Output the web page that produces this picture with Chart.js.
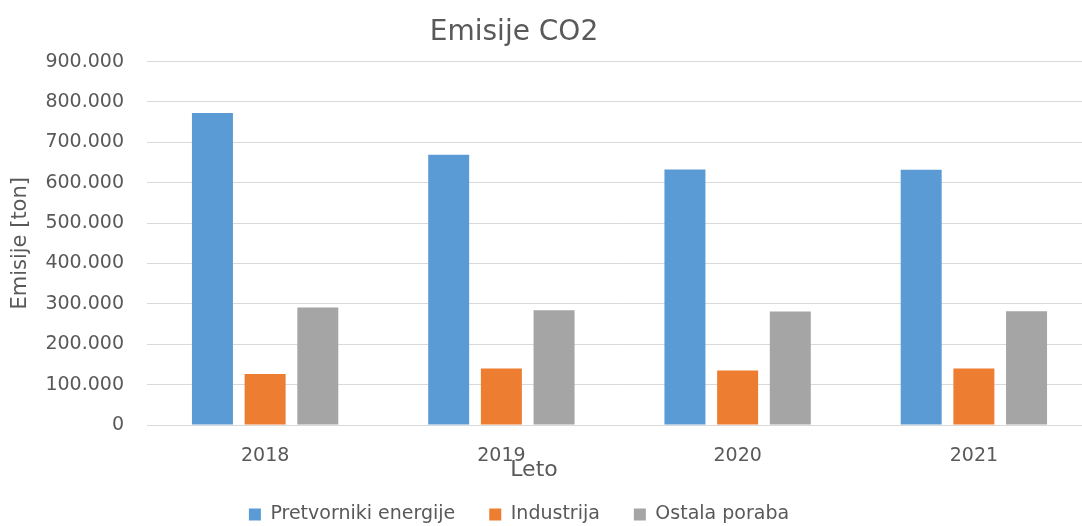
<!DOCTYPE html>
<html>
<head>
<meta charset="utf-8">
<title>Emisije CO2</title>
<script src="https://cdn.jsdelivr.net/npm/chart.js@4.4.1/dist/chart.umd.min.js"></script>
<style>
    body { margin: 0; background: #ffffff; overflow: hidden; }
    /* plot area runs a little past the right edge, as in the reference */
    #chartBox { width: 1082px; height: 526px; overflow: hidden; }
</style>
</head>
<body>
<div id="chartBox">
    <canvas id="co2Chart" width="1092" height="526"></canvas>
</div>
<script>
// Chart data
const years = ['2018', '2019', '2020', '2021'];
const pretvorniki = [773000, 669000, 633000, 632000];
const industrija = [126000, 140000, 135000, 140000];
const ostalaPoraba = [291000, 284000, 281000, 282000];
const yTicks = [0, 100000, 200000, 300000, 400000, 500000, 600000, 700000, 800000, 900000];

const textColor = '#595959';
const gridColor = '#d9d9d9';
const fontName = "'DejaVu Sans', sans-serif";

function formatThousands(value) {
    return String(value).replace(/\B(?=(\d{3})+(?!\d))/g, '.');
}

// Excel puts title, legend and the x axis title slightly left of centre
const placeTextPlugin = {
    id: 'placeText',
    afterLayout(chart) {
        const title = chart.titleBlock;
        if (title) {
            const w = title.right - title.left;
            title.left = 514 - w / 2;
            title.right = title.left + w;
        }
        const legend = chart.legend;
        if (legend) {
            const w = legend.right - legend.left;
            legend.left = 519 - w / 2;
            legend.right = legend.left + w;
        }
    },
    afterDraw(chart) {
        const ctx = chart.ctx;
        ctx.save();
        ctx.font = '22px ' + fontName;
        ctx.fillStyle = textColor;
        ctx.textAlign = 'center';
        ctx.textBaseline = 'middle';
        ctx.fillText('Leto', 534, 470);
        ctx.restore();
    }
};

const ctx = document.getElementById('co2Chart');

new Chart(ctx, {
    type: 'bar',
    data: {
        labels: years,
        datasets: [
            { label: 'Pretvorniki energije', data: pretvorniki, backgroundColor: '#5B9BD5' },
            { label: 'Industrija', data: industrija, backgroundColor: '#ED7D31' },
            { label: 'Ostala poraba', data: ostalaPoraba, backgroundColor: '#A5A5A5' }
        ]
    },
    options: {
        responsive: false,
        animation: false,
        devicePixelRatio: 1,
        layout: {
            padding: { left: 0, right: 0, top: 0, bottom: -8 }
        },
        datasets: {
            bar: {
                categoryPercentage: 0.669,
                barPercentage: 0.778,
                borderWidth: 0
            }
        },
        plugins: {
            title: {
                display: true,
                text: 'Emisije CO2',
                color: textColor,
                font: { family: fontName, size: 28, weight: 'normal' },
                padding: { top: 16, bottom: 12 }
            },
            legend: {
                position: 'bottom',
                labels: {
                    color: textColor,
                    boxWidth: 12,
                    boxHeight: 12,
                    padding: 34,
                    font: { family: fontName, size: 19 }
                }
            },
            tooltip: { enabled: false }
        },
        scales: {
            x: {
                grid: { display: false, drawTicks: false },
                border: { display: true, color: gridColor, width: 1 },
                ticks: {
                    color: textColor,
                    padding: 20,
                    font: { family: fontName, size: 19 }
                },
                afterFit: function(scale) {
                    scale.height = 46;
                }
            },
            y: {
                min: 0,
                max: 900000,
                afterBuildTicks: function(scale) {
                    scale.ticks = yTicks.map(v => ({ value: v }));
                },
                grid: { color: gridColor, lineWidth: 1, drawTicks: false },
                border: { display: false },
                ticks: {
                    color: textColor,
                    padding: 23,
                    font: { family: fontName, size: 19 },
                    callback: function(value) {
                        return formatThousands(value);
                    }
                },
                title: {
                    display: true,
                    text: 'Emisije [ton]',
                    color: textColor,
                    font: { family: fontName, size: 21 },
                    padding: { top: 8, bottom: 12 }
                },
                afterFit: function(scale) {
                    scale.width = 147;
                }
            }
        }
    },
    plugins: [placeTextPlugin]
});
</script>
</body>
</html>
